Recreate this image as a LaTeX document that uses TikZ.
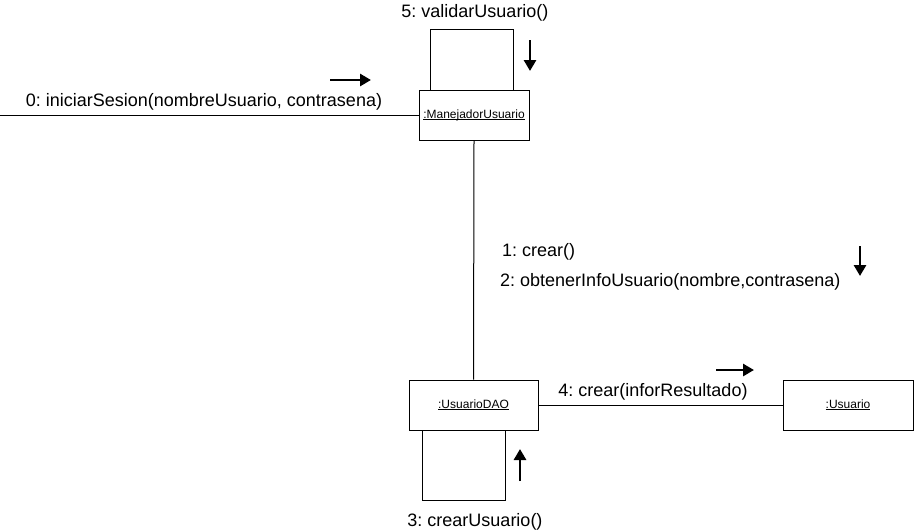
\documentclass[tikz,border=0pt]{standalone}
\usepackage{fontspec}
\setmainfont{Liberation Sans}
\usetikzlibrary{arrows.meta,calc}
\frenchspacing
\newcommand\myul[1]{\setbox0\hbox{#1}\rlap{\rule[-1.3pt]{\wd0}{0.6pt}}\box0}
\begin{document}
\begin{tikzpicture}[x=1pt,y=-1pt,
  obj/.style={draw,line width=1pt,minimum height=50pt,inner sep=0pt,font=\fontsize{12}{14}\selectfont},
  lbl/.style={inner sep=0pt,font=\fontsize{18}{21}\selectfont},
  link/.style={line width=1pt},
  msgarrow/.style={line width=2.8pt,-{Triangle[length=11pt,width=12pt]}}]
\useasboundingbox (0,0) rectangle (915,531);
% objects
\node[obj,minimum width=110pt] (mu) at (474,115) {\myul{:ManejadorUsuario}};
\node[obj,minimum width=129pt] (dao) at (473.5,405) {\myul{:UsuarioDAO}};
\node[obj,minimum width=130pt] (us) at (848,405) {\myul{:Usuario}};
% links
\coordinate (start) at (0,115);
\draw[link] (start) -- (mu.west);
\draw[link] (mu.south) -- (dao.north);
\draw[link] (dao.east) -- (us.west);
\draw[link] (mu.north west) ++(12,0) -- ++(0,-60) -- ++(83,0) -- ++(0,60);
\draw[link] (dao.south west) ++(14,0) -- ++(0,70) -- ++(83,0) -- ++(0,-70);
% labels
\node[lbl] (l5) at (475,13) {5: validarUsuario()};
\node[lbl] (l0) at (204,102) {0: iniciarSesion(nombreUsuario, contrasena)};
\node[lbl,anchor=west] (l1) at (502,252) {1: crear()};
\node[lbl,anchor=west] (l2) at (500,282) {2: obtenerInfoUsuario(nombre,contrasena)};
\node[lbl] (l4) at (653,392) {4: crear(inforResultado)};
\node[lbl] (l3) at (475,522) {3: crearUsuario()};
% message arrows
\coordinate (a0s) at (330,80); \coordinate (a0e) at (371,80);
\draw[msgarrow] (a0s) -- (a0e);
\coordinate (a5s) at (530,40); \coordinate (a5e) at (530,71);
\draw[msgarrow] (a5s) -- (a5e);
\coordinate (a12s) at (860,246); \coordinate (a12e) at (860,276);
\draw[msgarrow] (a12s) -- (a12e);
\coordinate (a4s) at (716,370); \coordinate (a4e) at (754,370);
\draw[msgarrow] (a4s) -- (a4e);
\coordinate (a3s) at (520,481); \coordinate (a3e) at (520,449);
\draw[msgarrow] (a3s) -- (a3e);
\end{tikzpicture}
\end{document}
